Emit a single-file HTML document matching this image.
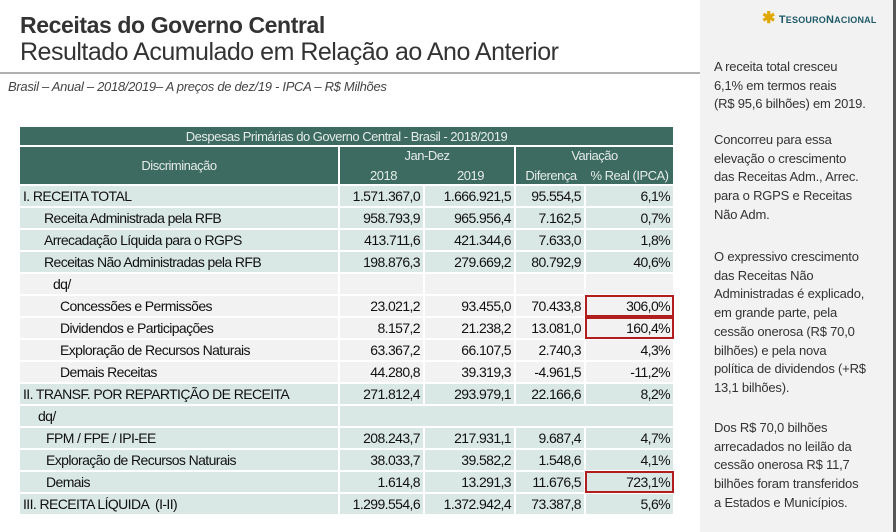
<!DOCTYPE html>
<html><head><meta charset="utf-8">
<style>
*{margin:0;padding:0;box-sizing:border-box}
body{width:896px;height:532px;background:#fff;position:relative;overflow:hidden;font-family:"Liberation Sans",sans-serif}
.t1{position:absolute;left:20px;top:12px;font-size:23px;font-weight:bold;color:#333;letter-spacing:-0.4px}
.t2{position:absolute;left:20px;top:38px;font-size:25px;color:#333;letter-spacing:-0.5px}
.rule{position:absolute;left:0;top:72px;width:700px;height:2px;background:#b0b0b0}
.sub{position:absolute;left:8px;top:79px;font-size:13px;font-style:italic;color:#444;letter-spacing:-0.3px}
.panel{position:absolute;left:700px;top:0;width:196px;height:532px;background:#f2f2f2;border-right:3px solid #555}
.p{position:absolute;left:14px;font-size:13px;line-height:18.7px;color:#333;white-space:nowrap;letter-spacing:-0.2px}
.logo{position:absolute;left:62px;top:8px;font-size:11px;font-weight:bold;color:#1e5a68;letter-spacing:0.2px}
table{position:absolute;left:18px;top:125px;width:657px;table-layout:fixed;border-collapse:separate;border-spacing:2px;font-size:14px;letter-spacing:-0.6px;color:#111}
td{padding:0 3px;white-space:nowrap;height:20px;background:#d9e8e5;overflow:visible}
td.n{text-align:right}
tr.g td{background:#f2f2f2}
th{background:#3d6a61;color:#e4ece9;font-weight:normal;font-size:13px;letter-spacing:-0.5px;white-space:nowrap}
.hd{display:flex;flex-direction:column;height:37px;justify-content:space-between;padding:1px 0}
.hd .r{display:flex}
.hd .r span{flex:1;text-align:center}
.box{outline:2px solid #b21e1e;outline-offset:-1px}
</style></head><body>
<div class="t1">Receitas do Governo Central</div>
<div class="t2">Resultado Acumulado em Relação ao Ano Anterior</div>
<div class="rule"></div>
<div class="sub">Brasil – Anual – 2018/2019– A preços de dez/19 - IPCA – R$ Milhões</div>

<table>
<colgroup><col style="width:318px"><col style="width:83px"><col style="width:89px"><col style="width:68px"><col style="width:87px"></colgroup>
<tr><th colspan="5" style="height:18px">Despesas Primárias do Governo Central - Brasil - 2018/2019</th></tr>
<tr><th style="height:37px">Discriminação</th>
<th colspan="2"><div class="hd"><div>Jan-Dez</div><div class="r"><span>2018</span><span>2019</span></div></div></th>
<th colspan="2"><div class="hd"><div>Variação</div><div class="r"><span style="flex:0 0 70px">Diferença</span><span>% Real (IPCA)</span></div></div></th></tr>
<tr><td>I. RECEITA TOTAL</td><td class="n">1.571.367,0</td><td class="n">1.666.921,5</td><td class="n">95.554,5</td><td class="n">6,1%</td></tr>
<tr><td style="padding-left:24px">Receita Administrada pela RFB</td><td class="n">958.793,9</td><td class="n">965.956,4</td><td class="n">7.162,5</td><td class="n">0,7%</td></tr>
<tr><td style="padding-left:24px">Arrecadação Líquida para o RGPS</td><td class="n">413.711,6</td><td class="n">421.344,6</td><td class="n">7.633,0</td><td class="n">1,8%</td></tr>
<tr><td style="padding-left:24px">Receitas Não Administradas pela RFB</td><td class="n">198.876,3</td><td class="n">279.669,2</td><td class="n">80.792,9</td><td class="n">40,6%</td></tr>
<tr class="g"><td style="padding-left:33px">dq/</td><td></td><td></td><td></td><td></td></tr>
<tr class="g"><td style="padding-left:40px">Concessões e Permissões</td><td class="n">23.021,2</td><td class="n">93.455,0</td><td class="n">70.433,8</td><td class="n box">306,0%</td></tr>
<tr class="g"><td style="padding-left:40px">Dividendos e Participações</td><td class="n">8.157,2</td><td class="n">21.238,2</td><td class="n">13.081,0</td><td class="n box">160,4%</td></tr>
<tr class="g"><td style="padding-left:40px">Exploração de Recursos Naturais</td><td class="n">63.367,2</td><td class="n">66.107,5</td><td class="n">2.740,3</td><td class="n">4,3%</td></tr>
<tr class="g"><td style="padding-left:40px">Demais Receitas</td><td class="n">44.280,8</td><td class="n">39.319,3</td><td class="n">-4.961,5</td><td class="n">-11,2%</td></tr>
<tr><td>II. TRANSF. POR REPARTIÇÃO DE RECEITA</td><td class="n">271.812,4</td><td class="n">293.979,1</td><td class="n">22.166,6</td><td class="n">8,2%</td></tr>
<tr><td style="padding-left:18px">dq/</td><td colspan="4"></td></tr>
<tr><td style="padding-left:26px">FPM / FPE / IPI-EE</td><td class="n">208.243,7</td><td class="n">217.931,1</td><td class="n">9.687,4</td><td class="n">4,7%</td></tr>
<tr><td style="padding-left:26px">Exploração de Recursos Naturais</td><td class="n">38.033,7</td><td class="n">39.582,2</td><td class="n">1.548,6</td><td class="n">4,1%</td></tr>
<tr><td style="padding-left:26px">Demais</td><td class="n">1.614,8</td><td class="n">13.291,3</td><td class="n">11.676,5</td><td class="n box">723,1%</td></tr>
<tr><td>III. RECEITA LÍQUIDA &nbsp;(I-II)</td><td class="n">1.299.554,6</td><td class="n">1.372.942,4</td><td class="n">73.387,8</td><td class="n">5,6%</td></tr>
</table>

<div class="panel">
  <div class="logo"><span style="color:#e0a800;font-size:16px">✱</span> T<span style="font-size:9px">ESOURO</span>N<span style="font-size:9px">ACIONAL</span></div>
  <div class="p" style="top:58px">A receita total cresceu<br>6,1% em termos reais<br>(R$ 95,6 bilhões) em 2019.</div>
  <div class="p" style="top:131px">Concorreu para essa<br>elevação o crescimento<br>das Receitas Adm., Arrec.<br>para o RGPS e Receitas<br>Não Adm.</div>
  <div class="p" style="top:248px">O expressivo crescimento<br>das Receitas Não<br>Administradas é explicado,<br>em grande parte, pela<br>cessão onerosa (R$ 70,0<br>bilhões) e pela nova<br>política de dividendos (+R$<br>13,1 bilhões).</div>
  <div class="p" style="top:419px">Dos R$ 70,0 bilhões<br>arrecadados no leilão da<br>cessão onerosa R$ 11,7<br>bilhões foram transferidos<br>a Estados e Municípios.</div>
</div>
</body></html>
